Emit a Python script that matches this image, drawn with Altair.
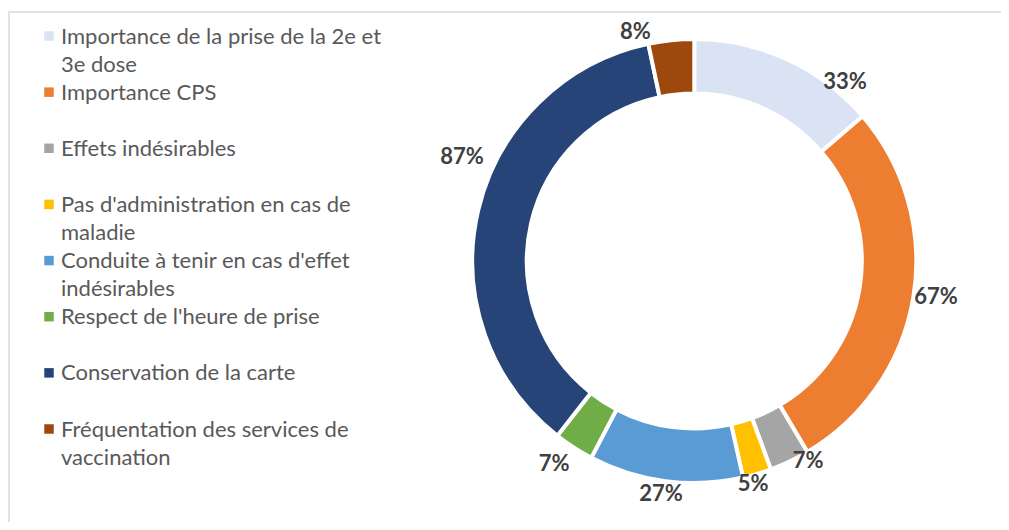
import altair as alt
import pandas as pd

categories = [
    "Importance de la prise de la 2e et\n3e dose",
    "Importance CPS",
    "Effets indésirables",
    "Pas d'administration en cas de\nmaladie",
    "Conduite à tenir en cas d'effet\nindésirables",
    "Respect de l'heure de prise",
    "Conservation de la carte",
    "Fréquentation des services de\nvaccination",
]
values = [33, 67, 7, 5, 27, 7, 87, 8]
labels = ["33%", "67%", "7%", "5%", "27%", "7%", "87%", "8%"]
colors = ["#DAE3F3", "#ED7D31", "#A5A5A5", "#FFC000", "#5B9BD5", "#70AD47", "#264478", "#9E480E"]

total = sum(values)
cum = 0
mids = []
for v in values:
    mids.append(cum + v / 2)
    cum += v

df = pd.DataFrame({
    "cat": categories,
    "value": values,
    "label": labels,
    "idx": list(range(len(values))),
    "mid": mids,
})

color_scale = alt.Scale(domain=categories, range=colors)
theta_scale = alt.Scale(domain=[0, total])

CX, CY = 685.3, 253

base = alt.Chart(df)

donut = base.mark_arc(innerRadius=167.5, outerRadius=222, stroke="white", strokeWidth=4).encode(
    theta=alt.Theta("value:Q", stack=True, scale=theta_scale),
    color=alt.Color("cat:N", scale=color_scale, legend=None),
    order=alt.Order("idx:Q"),
    x=alt.value(CX),
    y=alt.value(CY),
)

# per-label nudges (styling), mimicking the original label placement
nudges = [(50.6, 39), (5, -3), (11, -17), (-9, -7), (-2, -5), (-10, 1), (1.5, -50), (-34, 10)]
text_layers = []
for i, (ddx, ddy) in enumerate(nudges):
    t = base.transform_filter(alt.datum.idx == i).mark_text(
        radius=240, dx=ddx, dy=ddy, font="Lato", fontSize=22, fontWeight="bold",
        color="#404040", align="center", baseline="middle",
    ).encode(
        theta=alt.Theta("mid:Q", stack=None, scale=theta_scale),
        text="label:N",
        x=alt.value(CX),
        y=alt.value(CY),
    )
    text_layers.append(t)

leg_y = alt.Y("idx:Q", scale=alt.Scale(domain=[0, 7], range=[28, 421]), axis=None)

leg_sq = base.mark_square(size=90, opacity=1).encode(
    x=alt.value(40),
    y=leg_y,
    color=alt.Color("cat:N", scale=color_scale, legend=None),
)

leg_txt = base.mark_text(
    align="left", baseline="alphabetic", dy=7.5, font="Lato", fontSize=22,
    color="#595959", lineBreak="\n", lineHeight=28,
).encode(
    x=alt.value(52),
    y=leg_y,
    text="cat:N",
)

border = alt.Chart(alt.Data(values=[{}])).mark_rect(
    fill=None, stroke="#D9D9D9", strokeWidth=1.5
).encode(
    x=alt.value(0), y=alt.value(4), x2=alt.value(1200), y2=alt.value(1000)
)

chart = alt.layer(border, donut, *text_layers, leg_sq, leg_txt).properties(
    width=993, height=514,
    autosize=alt.AutoSizeParams(type="fit", contains="padding"),
    padding=0,
).configure_view(stroke=None)

chart.save("out.html", embed_options={"renderer": "svg", "actions": False})
